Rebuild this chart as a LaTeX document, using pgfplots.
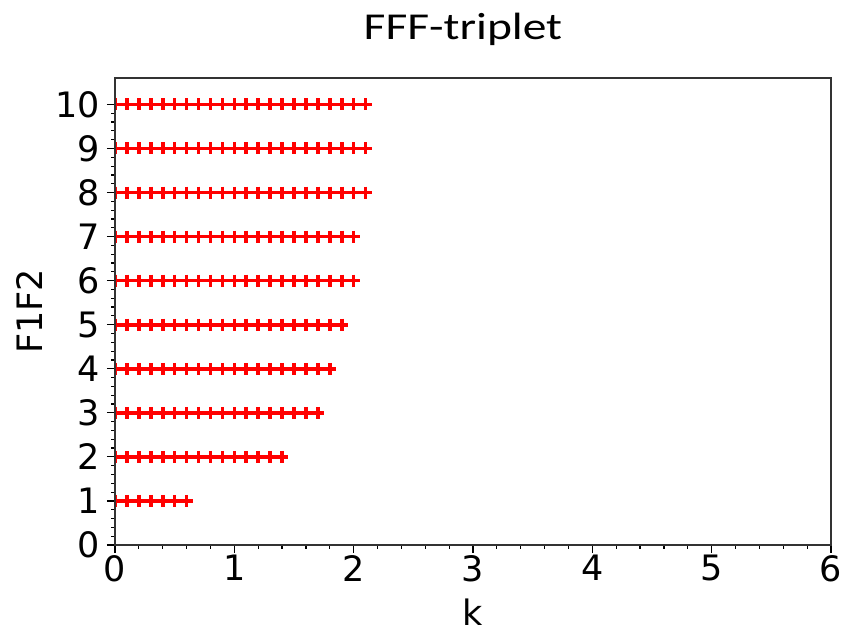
\documentclass[border=0pt]{standalone}
\usepackage{fontspec}
\usepackage{pgfplots}
\pgfplotsset{compat=1.18}
\setmainfont{DejaVu Sans}
\newfontfamily\titlefont[FakeStretch=1.25]{Carlito}
\pgfplotsset{rowmark/.style={red, only marks, mark=+, mark size=3pt, mark options={line width=1.8pt}}}
\begin{document}
\begin{tikzpicture}
\path[use as bounding box] (-57.5pt,-42.5pt) rectangle (367.5pt,272.5pt);
\begin{axis}[
  at={(0,0)}, anchor=south west,
  scale only axis, width=358pt, height=233.5pt,
  xmin=0, xmax=6, ymin=0, ymax=10.6,
  xtick={0,1,2,3,4,5,6}, ytick={0,1,2,3,4,5,6,7,8,9,10},
  minor x tick num=4, minor y tick num=4,
  tick align=outside, tick pos=left,
  major tick length=4pt, minor tick length=2pt,
  every tick/.style={black, line width=0.6pt},
  axis line style={black!80, line width=0.7pt},
  /pgf/number format/assume math mode=true,
  ticklabel style={font=\fontsize{17.5}{20}\selectfont},
  xticklabel style={yshift=2.5pt},
  label style={font=\fontsize{17.5}{20}\selectfont},
  title style={font=\titlefont\fontsize{19}{22}\selectfont, at={(axis description cs:0.486,1)}, anchor=base, yshift=13pt},
  title={FFF-triplet},
  xlabel={k}, ylabel={F1F2},
  xlabel style={at={(axis description cs:0.5,0)}, anchor=base, yshift=-40pt},
  ylabel style={at={(axis description cs:-0.1006,0.5)}, anchor=base},
  clip marker paths=true, axis on top,
]
\addplot[rowmark] coordinates {(0,1)(0.1,1)(0.2,1)(0.3,1)(0.4,1)(0.5,1)(0.6,1)};
\addplot[rowmark] coordinates {(0,2)(0.1,2)(0.2,2)(0.3,2)(0.4,2)(0.5,2)(0.6,2)(0.7,2)(0.8,2)(0.9,2)(1.0,2)(1.1,2)(1.2,2)(1.3,2)(1.4,2)};
\addplot[rowmark] coordinates {(0,3)(0.1,3)(0.2,3)(0.3,3)(0.4,3)(0.5,3)(0.6,3)(0.7,3)(0.8,3)(0.9,3)(1.0,3)(1.1,3)(1.2,3)(1.3,3)(1.4,3)(1.5,3)(1.6,3)(1.7,3)};
\addplot[rowmark] coordinates {(0,4)(0.1,4)(0.2,4)(0.3,4)(0.4,4)(0.5,4)(0.6,4)(0.7,4)(0.8,4)(0.9,4)(1.0,4)(1.1,4)(1.2,4)(1.3,4)(1.4,4)(1.5,4)(1.6,4)(1.7,4)(1.8,4)};
\addplot[rowmark] coordinates {(0,5)(0.1,5)(0.2,5)(0.3,5)(0.4,5)(0.5,5)(0.6,5)(0.7,5)(0.8,5)(0.9,5)(1.0,5)(1.1,5)(1.2,5)(1.3,5)(1.4,5)(1.5,5)(1.6,5)(1.7,5)(1.8,5)(1.9,5)};
\addplot[rowmark] coordinates {(0,6)(0.1,6)(0.2,6)(0.3,6)(0.4,6)(0.5,6)(0.6,6)(0.7,6)(0.8,6)(0.9,6)(1.0,6)(1.1,6)(1.2,6)(1.3,6)(1.4,6)(1.5,6)(1.6,6)(1.7,6)(1.8,6)(1.9,6)(2.0,6)};
\addplot[rowmark] coordinates {(0,7)(0.1,7)(0.2,7)(0.3,7)(0.4,7)(0.5,7)(0.6,7)(0.7,7)(0.8,7)(0.9,7)(1.0,7)(1.1,7)(1.2,7)(1.3,7)(1.4,7)(1.5,7)(1.6,7)(1.7,7)(1.8,7)(1.9,7)(2.0,7)};
\addplot[rowmark] coordinates {(0,8)(0.1,8)(0.2,8)(0.3,8)(0.4,8)(0.5,8)(0.6,8)(0.7,8)(0.8,8)(0.9,8)(1.0,8)(1.1,8)(1.2,8)(1.3,8)(1.4,8)(1.5,8)(1.6,8)(1.7,8)(1.8,8)(1.9,8)(2.0,8)(2.1,8)};
\addplot[rowmark] coordinates {(0,9)(0.1,9)(0.2,9)(0.3,9)(0.4,9)(0.5,9)(0.6,9)(0.7,9)(0.8,9)(0.9,9)(1.0,9)(1.1,9)(1.2,9)(1.3,9)(1.4,9)(1.5,9)(1.6,9)(1.7,9)(1.8,9)(1.9,9)(2.0,9)(2.1,9)};
\addplot[rowmark] coordinates {(0,10)(0.1,10)(0.2,10)(0.3,10)(0.4,10)(0.5,10)(0.6,10)(0.7,10)(0.8,10)(0.9,10)(1.0,10)(1.1,10)(1.2,10)(1.3,10)(1.4,10)(1.5,10)(1.6,10)(1.7,10)(1.8,10)(1.9,10)(2.0,10)(2.1,10)};
\end{axis}
\end{tikzpicture}
\end{document}
